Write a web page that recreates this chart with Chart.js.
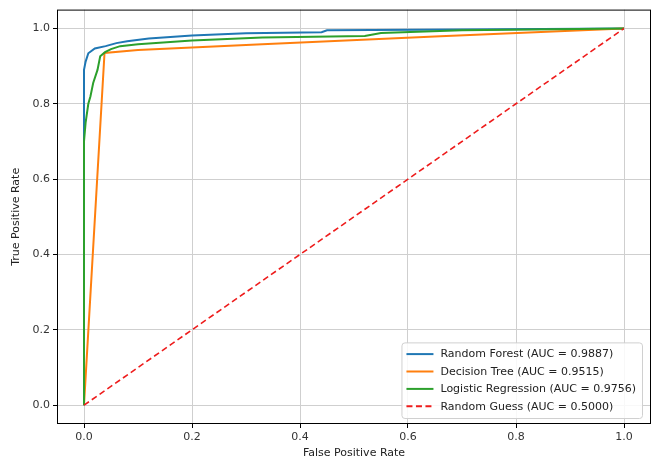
<!DOCTYPE html>
<html>
<head>
<meta charset="utf-8">
<script src="https://cdn.jsdelivr.net/npm/chart.js@4"></script>
<style>
  html, body { margin: 0; padding: 0; background: #fff; }
  canvas { display: block; }
</style>
</head>
<body>
<canvas id="roc" width="654" height="461"></canvas>
<script>
// ROC curve points
const rfFpr = [0, 0, 0.003, 0.008, 0.02, 0.04, 0.06, 0.08, 0.12, 0.2, 0.3, 0.44, 0.45, 0.7, 1];
const rfTpr = [0, 0.89, 0.912, 0.934, 0.947, 0.953, 0.961, 0.966, 0.973, 0.981, 0.987, 0.99, 0.995, 0.997, 1];

const dtFpr = [0, 0.038, 0.1, 0.33, 0.66, 1];
const dtTpr = [0, 0.935, 0.943, 0.958, 0.979, 1];

const lrFpr = [0, 0, 0.003, 0.008, 0.012, 0.017, 0.025, 0.03, 0.039, 0.05, 0.067, 0.1, 0.2, 0.33, 0.52, 0.55, 0.7, 1];
const lrTpr = [0, 0.70, 0.75, 0.80, 0.82, 0.855, 0.89, 0.926, 0.937, 0.945, 0.953, 0.958, 0.968, 0.976, 0.98, 0.988, 0.995, 1];

const guessFpr = [0, 1];
const guessTpr = [0, 1];

const labels = [
    'Random Forest (AUC = 0.9887)',
    'Decision Tree (AUC = 0.9515)',
    'Logistic Regression (AUC = 0.9756)',
    'Random Guess (AUC = 0.5000)'
];
const ticks = [0, 0.2, 0.4, 0.6, 0.8, 1.0];

const toPoints = (xs, ys) => xs.map((x, i) => ({ x: x, y: ys[i] }));

// black frame round the plot area, like matplotlib spines
const framePlugin = {
    id: 'frame',
    afterDatasetsDraw(chart) {
        const a = chart.chartArea;
        const ctx = chart.ctx;
        ctx.save();
        ctx.strokeStyle = '#000';
        ctx.lineWidth = 1;
        ctx.strokeRect(a.left + 0.5, a.top + 0.5, a.right - a.left - 1, a.bottom - a.top - 1);
        ctx.restore();
    }
};

// legend drawn inside the plot, lower right
const legendPlugin = {
    id: 'innerLegend',
    afterDraw(chart) {
        const ctx = chart.ctx;
        const sets = chart.data.datasets;
        const a = chart.chartArea;
        ctx.save();
        ctx.font = '11px "DejaVu Sans"';
        let maxW = 0;
        sets.forEach(d => { maxW = Math.max(maxW, ctx.measureText(d.label).width); });
        const rowH = 17.4;
        const boxW = 6 + 27 + 7 + maxW + 5;
        const boxH = sets.length * rowH + 6;
        const x0 = a.right - 9 - boxW;
        const y0 = a.bottom - 6 - boxH;
        ctx.fillStyle = 'rgba(255,255,255,0.85)';
        ctx.strokeStyle = '#d0d0d0';
        ctx.lineWidth = 1;
        ctx.beginPath();
        ctx.roundRect(x0 + 0.5, y0 + 0.5, boxW, boxH, 3);
        ctx.fill();
        ctx.stroke();
        sets.forEach((d, i) => {
            const cy = y0 + 3 + rowH * i + rowH / 2;
            ctx.strokeStyle = d.borderColor;
            ctx.lineWidth = 2;
            ctx.setLineDash(d.borderDash || []);
            ctx.beginPath();
            ctx.moveTo(x0 + 5, cy);
            ctx.lineTo(x0 + 32, cy);
            ctx.stroke();
            ctx.setLineDash([]);
            ctx.fillStyle = '#222';
            ctx.textBaseline = 'middle';
            ctx.textAlign = 'left';
            ctx.fillText(d.label, x0 + 39, cy + 0.5);
        });
        ctx.restore();
    }
};

const axisFont = { family: '"DejaVu Sans"', size: 11 };

function axis(title, widthOrHeight, isX) {
    return {
        type: 'linear',
        min: -0.05,
        max: 1.05,
        afterBuildTicks: s => { s.ticks = ticks.map(v => ({ value: v })); },
        afterFit: s => { if (isX) s.height = widthOrHeight; else s.width = widthOrHeight; },
        border: { display: false },
        grid: { color: '#cfcfcf', lineWidth: 1, drawTicks: true, tickLength: 4, tickColor: '#000' },
        ticks: { font: axisFont, color: '#333', padding: 3, callback: v => v.toFixed(1) },
        title: { display: true, text: title, font: axisFont, color: '#222',
                 padding: isX ? { top: 2, bottom: 1 } : { top: 10, bottom: 0 } }
    };
}

new Chart(document.getElementById('roc'), {
    type: 'line',
    data: {
        datasets: [
            { label: labels[0], data: toPoints(rfFpr, rfTpr), borderColor: '#1f77b4', order: 4 },
            { label: labels[1], data: toPoints(dtFpr, dtTpr), borderColor: '#ff7f0e', order: 3 },
            { label: labels[2], data: toPoints(lrFpr, lrTpr), borderColor: '#2ca02c', order: 2 },
            { label: labels[3], data: toPoints(guessFpr, guessTpr), borderColor: '#ee1c1c', borderDash: [6, 3.5], borderWidth: 1.6, order: 1 }
        ]
    },
    options: {
        responsive: false,
        animation: false,
        devicePixelRatio: 1,
        layout: { padding: { top: 3, right: 3, left: 0, bottom: 0 } },
        elements: {
            point: { radius: 0 },
            line: { borderWidth: 2, tension: 0, fill: false }
        },
        scales: {
            x: axis('False Positive Rate', 37, true),
            y: axis('True Positive Rate', 57, false)
        },
        plugins: {
            legend: { display: false },
            tooltip: { enabled: false }
        }
    },
    plugins: [framePlugin, legendPlugin]
});
</script>
</body>
</html>
